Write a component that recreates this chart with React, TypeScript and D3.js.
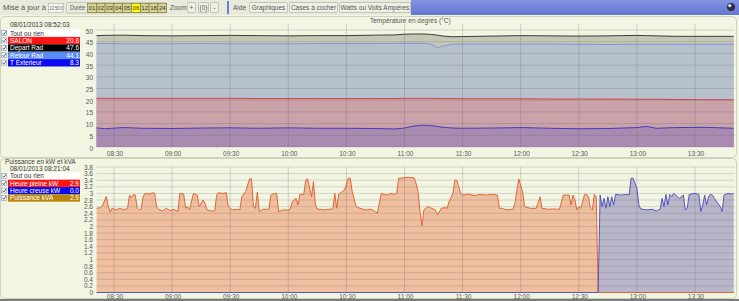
import React from 'react';
import * as d3 from 'd3';

const W = 739, H = 301;
const FONT = "'Liberation Sans', Arial, sans-serif";

// ---------- data ----------
const xTickLabels = ["08:30", "09:00", "09:30", "10:00", "10:30", "11:00", "11:30", "12:00", "12:30", "13:00", "13:30"];
const tempTicks = [0, 5, 10, 15, 20, 25, 30, 35, 40, 45, 50];
const powerTicks = [0, 0.2, 0.4, 0.6, 0.8, 1, 1.2, 1.4, 1.6, 1.8, 2, 2.2, 2.4, 2.6, 2.8, 3, 3.2, 3.4, 3.6, 3.8];
const durations = ["01", "02", "03", "04", "05", "06", "12", "18", "24"];

const tempTimes = ["08:21", "08:25", "08:35", "08:45", "09:00", "09:15", "09:30", "09:45", "10:00", "10:15", "10:30", "10:45", "10:55", "11:00", "11:05", "11:10", "11:14", "11:17", "11:20", "11:25", "11:30", "11:45", "12:00", "12:15", "12:30", "12:45", "13:00", "13:05", "13:10", "13:20", "13:35", "13:50"];
const departRad = [47.6, 47.7, 47.8, 47.6, 47.5, 47.6, 47.7, 47.6, 47.5, 47.6, 47.6, 47.8, 47.9, 48.2, 48.3, 48.3, 48.1, 47.8, 47.4, 47.1, 47.2, 47.4, 47.6, 47.5, 47.4, 47.5, 47.7, 47.6, 47.5, 47.3, 47.3, 47.3];
const retourRad = [44.2, 44.2, 44.1, 44.1, 44.1, 44.2, 44.1, 44.1, 44.1, 44.2, 44.2, 44.2, 44.3, 44.3, 44.3, 44.3, 43.9, 42.4, 43.2, 43.9, 44.0, 44.0, 44.0, 44.0, 43.9, 43.8, 43.9, 43.9, 43.9, 43.9, 43.9, 43.9];
const salon = [20.8, 20.8, 20.8, 20.8, 20.8, 20.8, 20.8, 20.7, 20.7, 20.7, 20.7, 20.7, 20.7, 20.8, 20.8, 20.8, 20.8, 20.7, 20.7, 20.7, 20.6, 20.6, 20.6, 20.5, 20.5, 20.5, 20.4, 20.4, 20.4, 20.3, 20.2, 20.2];
const tExterieur = [8.2, 7.8, 8.3, 8.0, 7.9, 8.1, 8.2, 8.0, 8.2, 8.0, 8.0, 7.9, 7.7, 8.1, 9.0, 9.3, 9.1, 8.8, 8.4, 8.1, 8.0, 8.1, 8.3, 8.0, 7.8, 7.9, 8.3, 8.8, 8.0, 8.3, 8.4, 8.0];

const pleineTimes = ["08:21", "08:23", "08:24", "08:26", "08:27", "08:28", "08:29", "08:31", "08:33", "08:35", "08:37", "08:38", "08:39", "08:40", "08:41", "08:42", "08:43", "08:44", "08:45", "08:46", "08:48", "08:50", "08:51", "08:52", "08:53", "08:55", "08:57", "08:59", "09:01", "09:03", "09:04", "09:06", "09:07", "09:08", "09:09", "09:11", "09:13", "09:14", "09:16", "09:17", "09:18", "09:20", "09:22", "09:23", "09:24", "09:26", "09:28", "09:29", "09:31", "09:33", "09:35", "09:36", "09:38", "09:40", "09:41", "09:42", "09:43", "09:44", "09:45", "09:47", "09:50", "09:51", "09:53", "09:54", "09:55", "09:57", "10:00", "10:01", "10:02", "10:04", "10:05", "10:06", "10:08", "10:09", "10:10", "10:12", "10:13", "10:14", "10:15", "10:18", "10:21", "10:23", "10:24", "10:25", "10:26", "10:28", "10:29", "10:31", "10:32", "10:33", "10:35", "10:37", "10:40", "10:43", "10:46", "10:48", "10:49", "10:51", "10:53", "10:55", "10:56", "10:57", "10:59", "11:02", "11:05", "11:06", "11:07", "11:08", "11:09", "11:10", "11:12", "11:14", "11:16", "11:17", "11:19", "11:21", "11:22", "11:23", "11:25", "11:26", "11:27", "11:29", "11:30", "11:33", "11:36", "11:39", "11:42", "11:45", "11:48", "11:49", "11:50", "11:53", "11:56", "11:57", "11:59", "12:01", "12:02", "12:05", "12:08", "12:10", "12:11", "12:14", "12:17", "12:20", "12:22", "12:25", "12:26", "12:27", "12:28", "12:29", "12:30", "12:31", "12:33", "12:34", "12:35", "12:36", "12:37", "12:38", "12:39", "12:40", "13:50"];
const heurePleine = [2.55, 2.57, 2.62, 2.90, 2.62, 2.43, 2.55, 2.50, 2.55, 2.50, 2.55, 2.95, 2.87, 2.97, 2.95, 2.55, 2.50, 2.52, 2.90, 3.00, 2.98, 3.02, 3.00, 2.60, 2.52, 2.47, 2.55, 2.48, 2.52, 2.45, 3.00, 2.98, 2.55, 2.60, 2.50, 3.00, 2.95, 2.60, 2.80, 2.70, 2.50, 2.47, 2.47, 2.95, 3.02, 3.00, 3.02, 2.60, 2.50, 2.52, 2.50, 2.90, 3.06, 3.44, 3.44, 2.60, 2.55, 3.04, 2.45, 2.52, 2.52, 2.95, 3.00, 3.00, 2.45, 2.50, 2.50, 2.52, 2.75, 2.85, 2.65, 2.97, 2.97, 3.40, 3.44, 2.90, 3.36, 2.65, 2.53, 2.50, 2.52, 2.53, 3.00, 2.55, 2.97, 3.06, 3.10, 3.46, 3.46, 3.06, 2.60, 2.55, 2.50, 2.52, 2.40, 3.00, 2.98, 2.95, 3.00, 2.97, 3.02, 3.46, 3.47, 3.49, 3.47, 3.30, 3.06, 2.45, 2.03, 2.50, 2.60, 2.55, 2.50, 2.35, 2.55, 2.57, 2.55, 2.75, 3.00, 3.40, 3.40, 3.00, 2.95, 2.98, 2.93, 2.97, 2.95, 2.97, 2.95, 2.55, 2.55, 2.50, 2.52, 2.70, 3.44, 3.04, 2.60, 2.55, 2.55, 2.90, 2.55, 2.52, 2.53, 2.52, 2.95, 2.95, 2.65, 2.95, 2.80, 2.50, 2.60, 2.55, 2.97, 2.97, 2.90, 2.55, 2.50, 2.97, 2.90, 0, 0];

const creuseTimes = ["08:21", "12:40", "12:41", "12:42", "12:43", "12:44", "12:45", "12:46", "12:47", "12:48", "12:49", "12:52", "12:55", "12:56", "12:57", "12:58", "13:00", "13:01", "13:02", "13:05", "13:08", "13:10", "13:12", "13:13", "13:14", "13:15", "13:16", "13:17", "13:18", "13:19", "13:20", "13:21", "13:22", "13:24", "13:25", "13:26", "13:27", "13:30", "13:32", "13:33", "13:34", "13:35", "13:36", "13:37", "13:38", "13:39", "13:40", "13:43", "13:44", "13:45", "13:47", "13:49", "13:50"];
const heureCreuse = [0, 0, 2.95, 2.60, 2.85, 2.55, 2.90, 2.60, 2.90, 2.65, 2.97, 2.95, 2.97, 2.95, 3.46, 3.46, 3.16, 2.65, 2.53, 2.50, 2.52, 2.47, 2.52, 2.85, 2.60, 2.97, 2.65, 2.97, 2.90, 3.00, 2.95, 2.90, 2.85, 2.95, 2.50, 2.55, 2.97, 3.00, 2.97, 2.45, 2.65, 2.95, 2.65, 2.90, 2.97, 2.95, 2.85, 2.60, 2.45, 2.95, 3.00, 2.98, 3.00];

const tempLegend = [
  { name: "SALON", value: "20.8", bg: "#ff1414" },
  { name: "Depart Rad", value: "47.6", bg: "#000000" },
  { name: "Retour Rad", value: "44.1", bg: "#5b8cf2" },
  { name: "T Exterieur", value: "8.3", bg: "#0a0af0" },
];
const powerLegend = [
  { name: "Heure pleine kW", value: "2.9", bg: "#ff1414" },
  { name: "Heure creuse kW", value: "0.0", bg: "#0a0af0" },
  { name: "Puissance kVA", value: "2.9", bg: "#b8860b" },
];

// ---------- scales ----------
const tm = (s: string) => { const p = s.split(':').map(Number); return p[0] * 60 + p[1] + (p[2] || 0) / 60; };
const x = d3.scaleLinear().domain([tm("08:30"), tm("13:30")]).range([114, 695]);
const XL = x(tm("08:21:04")), XR = x(tm("13:50:30"));
const yT = d3.scaleLinear().domain([0, 50]).range([147, 30]);
const yB = d3.scaleLinear().domain([0, 3.8]).range([292.5, 167]);

const zipT = (vals: number[]) => tempTimes.map((t, i) => [tm(t), vals[i]] as [number, number]);
const zip = (times: string[], vals: number[]) => times.map((t, i) => [tm(t), vals[i]] as [number, number]);

const areaGen = (y: d3.ScaleLinear<number, number>) => d3.area<[number, number]>().x(d => x(d[0])).y0(y(0)).y1(d => y(d[1]));
const lineGen = (y: d3.ScaleLinear<number, number>) => d3.line<[number, number]>().x(d => x(d[0])).y(d => y(d[1]));

const Check = ({ y }: { y: number }) => (
  <g>
    <rect x={1.5} y={y + 1} width={5} height={5} fill="#fff" stroke="#7f8fae" strokeWidth={0.6} />
    <path d={`M2.5,${y + 3.5} L3.8,${y + 5} L6,${y + 1.8}`} fill="none" stroke="#3a4a7a" strokeWidth={0.9} />
  </g>
);

const Legend = ({ top, rows, rh }: { top: number; rows: { name: string; value: string; bg: string }[]; rh: number }) => (
  <g fontFamily={FONT} fontSize={6.5}>
    <Check y={top} />
    <rect x={8} y={top} width={72} height={rh} fill="#ffffff" />
    <text x={10} y={top + rh / 2 + 2.3} fill="#333">Tout ou rien</text>
    {rows.map((r, i) => {
      const yy = top + (i + 1) * rh;
      return (
        <g key={r.name}>
          <Check y={yy} />
          <rect x={8} y={yy} width={72} height={rh} fill={r.bg} />
          <text x={10} y={yy + rh / 2 + 2.3} fill="#fff">{r.name}</text>
          <text x={79} y={yy + rh / 2 + 2.3} fill="#fff" textAnchor="end">{r.value}</text>
        </g>
      );
    })}
  </g>
);

const Grid = ({ y, ticks, top, bottom }: { y: d3.ScaleLinear<number, number>; ticks: number[]; top: number; bottom: number }) => (
  <g>
    {ticks.map(t => (
      <line key={'h' + t} x1={XL} x2={XR} y1={y(t)} y2={y(t)} stroke="#5a5a5a" strokeOpacity={0.26} strokeWidth={0.8} />
    ))}
    {xTickLabels.map(t => (
      <line key={'v' + t} x1={x(tm(t))} x2={x(tm(t))} y1={top} y2={bottom} stroke="#5a5a5a" strokeOpacity={0.3} strokeWidth={0.8} />
    ))}
  </g>
);

export default function App() {
  const aT = areaGen(yT), lT = lineGen(yT);
  const aB = areaGen(yB), lB = lineGen(yB);
  const dep = zipT(departRad), ret = zipT(retourRad), sal = zipT(salon), ext = zipT(tExterieur);
  const hp = zip(pleineTimes, heurePleine), hc = zip(creuseTimes, heureCreuse);

  const btn = (x0: number, w: number, label: string, fill = "#eef0e4") => (
    <g key={label}>
      <rect x={x0 + 0.5} y={2.5} width={w} height={10} fill={fill} stroke="#a8a898" strokeWidth={0.6} rx={1} />
      <text x={x0 + 0.5 + w / 2} y={9.8} textAnchor="middle" fill="#555">{label}</text>
    </g>
  );

  return (
    <svg width={W} height={H} style={{ position: 'absolute', left: 0, top: 0 }} fontFamily={FONT}>
      <defs>
        <linearGradient id="blueBar" x1="0" x2="0" y1="0" y2="1">
          <stop offset="0" stopColor="#8293e2" />
          <stop offset="1" stopColor="#6476d0" />
        </linearGradient>
      </defs>
      <rect x={0} y={0} width={W} height={H} fill="#f3f5e3" />

      {/* toolbar */}
      <g fontSize={6.5}>
        <rect x={0} y={0} width={W} height={15} fill="#e8eadc" />
        <rect x={411} y={0} width={W - 411} height={15} fill="url(#blueBar)" />
        <circle cx={731} cy={7} r={4} fill="#2c2c44" />
        <circle cx={729.8} cy={5.6} r={1.6} fill="#e8e8f8" />
        <text x={3} y={9.8} fill="#555" textLength={43} lengthAdjust="spacingAndGlyphs">Mise à jour à</text>
        <rect x={48.5} y={3.5} width={15} height={9} fill="#f7f7ef" stroke="#aaa" strokeWidth={0.6} />
        <text x={49.3} y={9.8} fill="#555" fontSize={5.8} textLength={13.4} lengthAdjust="spacingAndGlyphs">13:50:0</text>
        <rect x={66.5} y={2.5} width={100} height={10.5} fill="none" stroke="#b0b0a0" strokeWidth={0.6} rx={1} />
        <text x={70} y={9.8} fill="#555" textLength={15} lengthAdjust="spacingAndGlyphs">Durée</text>
        {durations.map((d, i) => (
          <g key={d}>
            <rect x={87.5 + i * 8.8} y={3.5} width={8.8} height={9} fill={d === "06" ? "#ffff00" : "#d8d48c"} stroke="#6c6a40" strokeWidth={0.6} />
            <text x={87.5 + i * 8.8 + 4.4} y={9.9} fontSize={6} textAnchor="middle" fill="#333">{d}</text>
          </g>
        ))}
        <text x={170} y={9.8} fill="#555">Zoom</text>
        {btn(187, 8, "+")}
        {btn(198, 10, "(0)")}
        {btn(210, 8, "-")}
        <rect x={227} y={1} width={2} height={13} fill="#6a7fd8" />
        <text x={233} y={9.8} fill="#555">Aide</text>
        {btn(249, 38, "Graphiques")}
        {btn(289, 48, "Cases à cocher")}
        {btn(339, 71, "Watts ou Volts Ampères")}
      </g>

      {/* panels */}
      <rect x={0.5} y={16.5} width={736} height={141} rx={4} fill="none" stroke="#c3cbb3" strokeWidth={0.8} />
      <rect x={0.5} y={158.5} width={736} height={140} rx={4} fill="none" stroke="#c3cbb3" strokeWidth={0.8} />

      {/* ---- top chart ---- */}
      <text x={370} y={22.5} fontSize={6.5} fill="#555">Température en degrés (°C)</text>
      <path d={aT(dep) || ''} fill="#c5c7b5" />
      <path d={aT(ret) || ''} fill="#b7c0cd" />
      <path d={aT(sal) || ''} fill="#c9a2aa" />
      <path d={aT(ext) || ''} fill="#a98bb2" />
      <Grid y={yT} ticks={tempTicks} top={24} bottom={yT(0)} />
      <path d={lT(dep) || ''} fill="none" stroke="#2a2a2a" strokeWidth={0.9} />
      <path d={lT(ret) || ''} fill="none" stroke="#7f90dc" strokeWidth={0.9} />
      <path d={lT(sal) || ''} fill="none" stroke="#d23a3a" strokeWidth={0.9} />
      <path d={lT(ext) || ''} fill="none" stroke="#3a2fc0" strokeWidth={0.9} />
      <g fontSize={6.5} fill="#555">
        {tempTicks.map(t => (
          <text key={t} x={93} y={yT(t) + 3.5} textAnchor="end">{t}</text>
        ))}
        {xTickLabels.map(t => (
          <text key={t} x={x(tm(t)) + 1} y={156} textAnchor="middle">{t}</text>
        ))}
      </g>
      <text x={10} y={27} fontSize={6.5} fill="#333">08/01/2013 08:52:03</text>
      <Legend top={29.5} rows={tempLegend} rh={7.4} />

      {/* ---- bottom chart ---- */}
      <path d={aB(hp) || ''} fill="#efbfa0" />
      <path d={aB(hc) || ''} fill="#bab6ca" />
      <Grid y={yB} ticks={powerTicks} top={yB(3.8)} bottom={yB(0)} />
      <path d={lB(hp) || ''} fill="none" stroke="#dc5a2a" strokeWidth={0.9} />
      <path d={lB(hc) || ''} fill="none" stroke="#4848c0" strokeWidth={0.9} />
      <g fontSize={6.5} fill="#555">
        {powerTicks.map(t => (
          <text key={t} x={93} y={yB(t) + 2.5} textAnchor="end">{String(+t.toFixed(1))}</text>
        ))}
        {xTickLabels.map(t => (
          <text key={t} x={x(tm(t)) + 1} y={298.5} textAnchor="middle">{t}</text>
        ))}
      </g>
      <text x={5} y={164} fontSize={6.5} fill="#444">Puissance en kW et kVA</text>
      <text x={10} y={171} fontSize={6.5} fill="#333">08/01/2013 08:21:04</text>
      <Legend top={172.3} rows={powerLegend} rh={7.35} />

      <rect x={0} y={299} width={W} height={2} fill="#7a7a7a" />
    </svg>
  );
}
